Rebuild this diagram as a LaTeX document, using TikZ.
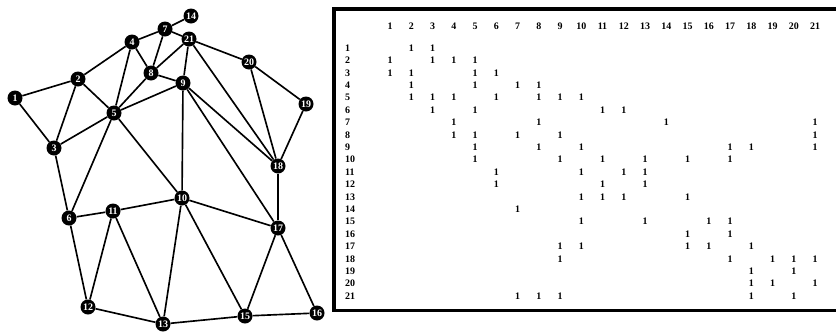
\documentclass[tikz,border=0pt]{standalone}
\usepackage{fontspec}
\setmainfont{Liberation Serif}
\usetikzlibrary{positioning}

\begin{document}
\begin{tikzpicture}[x=0.03cm, y=-0.03cm,
  vertice/.style={circle, fill=black, text=white, inner sep=0pt,
                  minimum size=0.45cm, font=\fontsize{8.5}{8.5}\selectfont\bfseries},
  arista/.style={line width=1.4pt, draw=black},
  celda/.style={inner sep=0pt, font=\fontsize{8.5}{8.5}\selectfont\bfseries},
  marco/.style={line width=2.6pt, draw=black}]
  \useasboundingbox (0,0) rectangle (836,331);
  \foreach \n/\x/\y in {1/15/98, 2/78/79, 3/54/148, 4/132/42, 5/114/113,
      6/69/218, 7/165/29, 8/151/73, 9/183/83, 10/182/198, 11/113/211,
      12/88/307, 13/163/324, 14/191/16, 15/245/316, 16/317/313,
      17/278/228, 18/278/166, 19/306/104, 20/249/62, 21/189/39}
    \node[vertice] (n\n) at (\x,\y) {\n};
  \foreach \a/\b in {1/2, 1/3, 2/3, 2/4, 2/5, 3/5, 3/6, 4/5, 4/7, 4/8,
      5/6, 5/8, 5/9, 5/10, 6/11, 6/12, 7/8, 7/14, 7/21, 8/9, 8/21,
      9/10, 9/17, 9/18, 9/21, 10/11, 10/13, 10/15, 10/17, 11/12, 11/13,
      12/13, 13/15, 15/16, 15/17, 16/17, 17/18, 18/19, 18/20, 18/21,
      19/20, 20/21} {
    \draw[arista] (n\a) -- (n\b);
    \node[celda] (m-\a-\b) at ({390+(\b-1)*21.25},{48+(\a-1)*12.4}) {1};
    \node[celda] (m-\b-\a) at ({390+(\a-1)*21.25},{48+(\b-1)*12.4}) {1};
  }
  \foreach \j in {1,...,21}
    \node[celda] (c\j) at ({390+(\j-1)*21.25},26) {\j};
  \foreach \i in {1,...,21}
    \node[celda, anchor=west] (f\i) at (345,{48+(\i-1)*12.4}) {\i};
  \draw[marco] (836,9) -| (334,310.5) -- (836,310.5);
\end{tikzpicture}
\end{document}
